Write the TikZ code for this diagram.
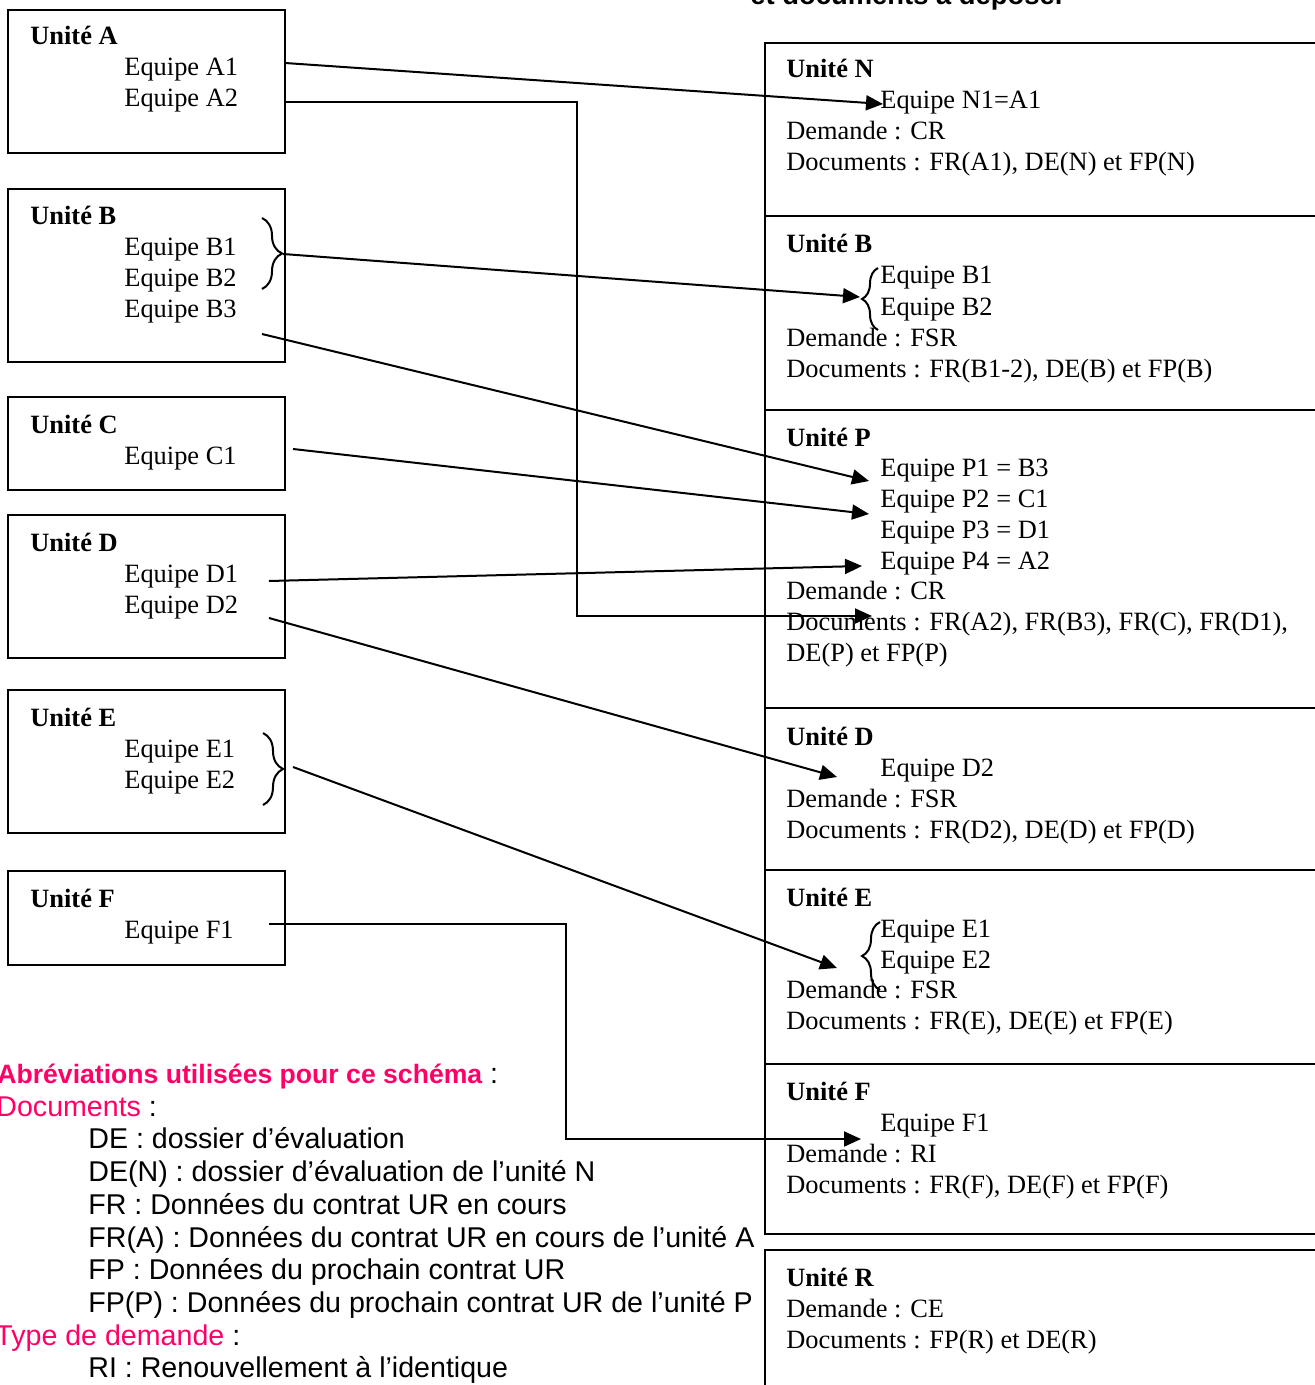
\documentclass[tikz,border=0pt]{standalone}
\usepackage{fontspec}
\setmainfont{Liberation Serif}
\newfontfamily\legfont{Liberation Sans}
\usetikzlibrary{arrows.meta, positioning, fit, decorations.pathreplacing}
\definecolor{legpink}{RGB}{255,0,102}

\tikzset{
  unitbox/.style={draw, line width=1pt, inner sep=0pt},
  head/.style={anchor=base west, inner sep=0pt, font=\bfseries\fontsize{13.2}{15.5}\selectfont},
  txt/.style={anchor=base west, inner sep=0pt, font=\fontsize{13.2}{15.5}\selectfont},
  legtxt/.style={anchor=base west, inner sep=0pt, font=\legfont\fontsize{14.3}{17}\selectfont},
  link/.style={line width=1pt, -{Triangle[length=8.5pt,width=7.5pt]}},
  grp/.style={decorate, decoration={brace, amplitude=#1}, line width=1pt},
  grp/.default=10pt
}

\begin{document}
\begin{tikzpicture}[x=0.5pt, y=-0.5pt]
\useasboundingbox (0,0) rectangle (1315,1385);

% title, cut at the top of the page
\node[anchor=base west, inner sep=0pt, font=\legfont\bfseries\fontsize{13.7}{16}\selectfont] (title) at (750,5) {et documents à déposer};

% left column: current units
\node[unitbox, fit={(8,10) (285,153)}] (uA) {};
\node[head] (hA) at (30,45) {Unité A};
\node[txt] (a1) at (124,76) {Equipe A1};
\node[txt] (a2) at (124,107) {Equipe A2};

\node[unitbox, fit={(8,189) (285,362)}] (uB) {};
\node[head] (hB) at (30,225) {Unité B};
\node[txt] (b1) at (124,256) {Equipe B1};
\node[txt] (b2) at (124,287) {Equipe B2};
\node[txt] (b3) at (124,318) {Equipe B3};

\node[unitbox, fit={(8,397) (285,490)}] (uC) {};
\node[head] (hC) at (30,433) {Unité C};
\node[txt] (c1) at (124,464) {Equipe C1};

\node[unitbox, fit={(8,515) (285,658)}] (uD) {};
\node[head] (hD) at (30,551) {Unité D};
\node[txt] (d1) at (124,582) {Equipe D1};
\node[txt] (d2) at (124,613) {Equipe D2};

\node[unitbox, fit={(8,690) (285,833)}] (uE) {};
\node[head] (hE) at (30,726) {Unité E};
\node[txt] (e1) at (124,757) {Equipe E1};
\node[txt] (e2) at (124,788) {Equipe E2};

\node[unitbox, fit={(8,871) (285,965)}] (uF) {};
\node[head] (hF) at (30,907) {Unité F};
\node[txt] (f1) at (124,938) {Equipe F1};

% right column: new units
\node[unitbox, fit={(765,43) (1340,216)}] (vN) {};
\node[head] (hN) at (786,78) {Unité N};
\node[txt] (n1) at (880,109) {Equipe N1=A1};
\node[txt] (demN) at (786,140) {Demande : CR};
\node[txt] (docN) at (786,171) {Documents : FR(A1), DE(N) et FP(N)};

\node[unitbox, fit={(765,216) (1340,410)}] (vB) {};
\node[head] (hvB) at (786,253) {Unité B};
\node[txt] (vb1) at (880,284) {Equipe B1};
\node[txt] (vb2) at (880,315) {Equipe B2};
\node[txt] (demB) at (786,346) {Demande : FSR};
\node[txt] (docB) at (786,377) {Documents : FR(B1-2), DE(B) et FP(B)};

\node[unitbox, fit={(765,410) (1340,708)}] (vP) {};
\node[head] (hP) at (786,446) {Unité P};
\node[txt] (p1) at (880,476) {Equipe P1 = B3};
\node[txt] (p2) at (880,507) {Equipe P2 = C1};
\node[txt] (p3) at (880,538) {Equipe P3 = D1};
\node[txt] (p4) at (880,569) {Equipe P4 = A2};
\node[txt] (demP) at (786,599) {Demande : CR};
\node[txt] (docP) at (786,630) {Documents : FR(A2), FR(B3), FR(C), FR(D1),};
\node[txt] (docPb) at (786,661) {DE(P) et FP(P)};

\node[unitbox, fit={(765,708) (1340,870)}] (vD) {};
\node[head] (hvD) at (786,745) {Unité D};
\node[txt] (vd2) at (880,776) {Equipe D2};
\node[txt] (demD) at (786,807) {Demande : FSR};
\node[txt] (docD) at (786,838) {Documents : FR(D2), DE(D) et FP(D)};

\node[unitbox, fit={(765,870) (1340,1064)}] (vE) {};
\node[head] (hvE) at (786,906) {Unité E};
\node[txt] (ve1) at (880,937) {Equipe E1};
\node[txt] (ve2) at (880,968) {Equipe E2};
\node[txt] (demE) at (786,998) {Demande : FSR};
\node[txt] (docE) at (786,1029) {Documents : FR(E), DE(E) et FP(E)};

\node[unitbox, fit={(765,1064) (1340,1234)}] (vF) {};
\node[head] (hvF) at (786,1100) {Unité F};
\node[txt] (vf1) at (880,1131) {Equipe F1};
\node[txt] (demF) at (786,1162) {Demande : RI};
\node[txt] (docF) at (786,1193) {Documents : FR(F), DE(F) et FP(F)};

\node[unitbox, fit={(765,1250) (1340,1400)}] (vR) {};
\node[head] (hR) at (786,1286) {Unité R};
\node[txt] (demR) at (786,1317) {Demande : CE};
\node[txt] (docR) at (786,1348) {Documents : FP(R) et DE(R)};

% braces grouping teams
\draw[grp] (262,218) -- (262,289);
\draw[grp] (263,733) -- (263,805);
\draw[grp=8pt] (878,330) -- (878,268);
\draw[grp=9pt] (880,990) -- (880,922);

% arrow ends
\coordinate (sA1) at (285,63);   \coordinate (tN) at (883,104);
\coordinate (sA2) at (285,102);  \coordinate (tPa) at (872,616);
\coordinate (sB) at (283,254);   \coordinate (tB) at (860,297);
\coordinate (sB3) at (262,334);  \coordinate (tP1) at (869,481);
\coordinate (sC1) at (293,449);  \coordinate (tP2) at (869,514);
\coordinate (sD1) at (269,581);  \coordinate (tP4) at (862,566);
\coordinate (sD2) at (269,618);  \coordinate (tD) at (837,777);
\coordinate (sE) at (293,767);   \coordinate (tE) at (837,968);
\coordinate (sF1) at (269,924);  \coordinate (tF) at (861,1139);

% transfers
\draw[link] (sA1) -- (tN);
\draw[link] (sA2) -| (577,616) -- (tPa);
\draw[link] (sB) -- (tB);
\draw[link] (sB3) -- (tP1);
\draw[link] (sC1) -- (tP2);
\draw[link] (sD1) -- (tP4);
\draw[link] (sD2) -- (tD);
\draw[link] (sE) -- (tE);
\draw[link] (sF1) -| (566,1139) -- (tF);

% legend
\node[legtxt] (lgAbr) at (-3,1083) {{\fontsize{13.3}{16}\selectfont\bfseries\color{legpink}Abréviations utilisées pour ce schéma} :};
\node[legtxt] (lgDoc) at (-4,1116) {\textcolor{legpink}{Documents} :};
\node[legtxt] (lgDE) at (88,1148) {DE : dossier d’évaluation};
\node[legtxt] (lgDEN) at (88,1181) {DE(N) : dossier d’évaluation de l’unité N};
\node[legtxt] (lgFR) at (88,1214) {FR : Données du contrat UR en cours};
\node[legtxt] (lgFRA) at (88,1247) {FR(A) : Données du contrat UR en cours de l’unité A};
\node[legtxt] (lgFP) at (88,1279) {FP : Données du prochain contrat UR};
\node[legtxt] (lgFPP) at (88,1312) {FP(P) : Données du prochain contrat UR de l’unité P};
\node[legtxt] (lgType) at (-5,1345) {\textcolor{legpink}{Type de demande} :};
\node[legtxt] (lgRI) at (88,1377) {RI : Renouvellement à l’identique};
\end{tikzpicture}
\end{document}
